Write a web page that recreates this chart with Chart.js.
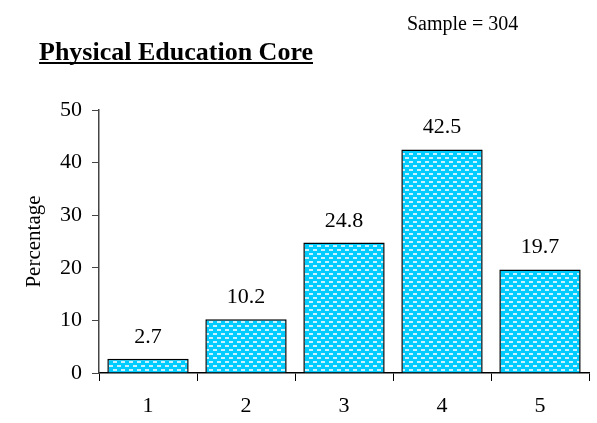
<!DOCTYPE html>
<html><head><meta charset="utf-8">
<script src="https://cdn.jsdelivr.net/npm/chart.js@4/dist/chart.umd.min.js"></script>
<style>html,body{margin:0;padding:0;background:#fff}#wrap{width:597px;height:423px}</style>
</head><body><div id="wrap"><canvas id="c" width="597" height="423"></canvas></div>
<script>
const categories = ["1", "2", "3", "4", "5"];
const percentages = [2.7, 10.2, 24.8, 42.5, 19.7];
const yTicks = [0, 10, 20, 30, 40, 50];
const chartTitle = "Physical Education Core";
const sampleText = "Sample = 304";
const yAxisTitle = "Percentage";

function makePattern() {
  const p = document.createElement('canvas');
  p.width = 8; p.height = 8;
  const g = p.getContext('2d');
  g.fillStyle = '#00ccff'; g.fillRect(0, 0, 8, 8);
  g.fillStyle = '#c8f2ff';
  g.fillRect(1, 1, 4, 2);
  g.fillRect(5, 5, 3, 2);
  g.fillRect(0, 5, 1, 2);
  return document.getElementById('c').getContext('2d').createPattern(p, 'repeat');
}

const serif = '"Liberation Serif", "Times New Roman", serif';

const overlay = {
  id: 'overlay',
  afterDraw(chart) {
    const ctx = chart.ctx;
    ctx.save();
    ctx.fillStyle = '#000';
    ctx.font = '20px ' + serif;
    ctx.textBaseline = 'alphabetic';
    ctx.textAlign = 'left';
    ctx.fillText(sampleText, 407, 30);
    ctx.font = 'bold 26px ' + serif;
    const w = ctx.measureText(chartTitle).width;
    const tx = 313 - w;
    ctx.fillText(chartTitle, tx, 60);
    ctx.fillRect(tx, 62, w, 2);
    // data labels
    ctx.font = '22px ' + serif;
    ctx.textAlign = 'center';
    const meta = chart.getDatasetMeta(0);
    meta.data.forEach((bar, i) => {
      ctx.fillText(String(percentages[i]), bar.x, bar.y - 16);
    });
    ctx.restore();
  }
};

new Chart(document.getElementById('c'), {
  type: 'bar',
  data: {
    labels: categories,
    datasets: [{
      data: percentages,
      backgroundColor: makePattern(),
      borderColor: '#000',
      borderWidth: 1.5,
      categoryPercentage: 1,
      barPercentage: 0.83
    }]
  },
  options: {
    responsive: false,
    animation: false,
    devicePixelRatio: 1,
    layout: { padding: { top: 110, right: 8, left: 0, bottom: 0 } },
    plugins: { legend: { display: false }, tooltip: { enabled: false }, title: { display: false } },
    scales: {
      x: {
        offset: true,
        grid: { offset: true, drawOnChartArea: false, drawTicks: true, tickLength: 8, color: '#000' },
        border: { color: '#000', width: 1.5 },
        ticks: { color: '#000', font: { family: serif, size: 22 }, padding: 12 },
        afterFit(s) { s.height = 50; }
      },
      y: {
        min: 0, max: 50,
        afterBuildTicks(s) { s.ticks = yTicks.map(v => ({ value: v })); },
        grid: { drawOnChartArea: false, drawTicks: true, tickLength: 7, color: '#444' },
        border: { color: '#444', width: 1.5 },
        ticks: { color: '#000', font: { family: serif, size: 22 }, padding: 10 },
        title: { display: true, text: yAxisTitle, color: '#000', font: { family: serif, size: 21 }, padding: { top: 22, bottom: 0 } },
        afterFit(s) { s.width = 99; }
      }
    }
  },
  plugins: [overlay]
});
</script></body></html>
